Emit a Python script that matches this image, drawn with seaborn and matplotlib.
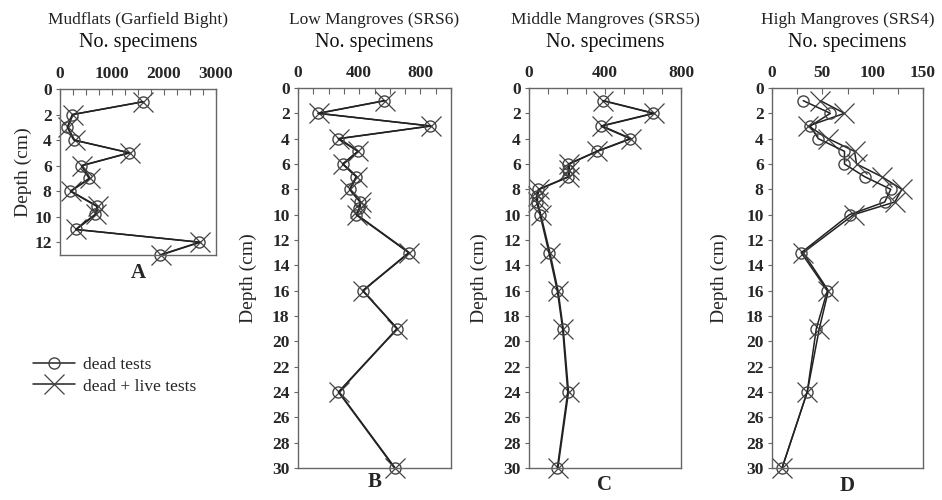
import matplotlib
matplotlib.use("Agg")
import matplotlib.pyplot as plt
from matplotlib.ticker import MultipleLocator
from matplotlib.lines import Line2D
import seaborn as sns
import pandas as pd

# ---------------- data ----------------
titles = ["Mudflats (Garfield Bight)", "Low Mangroves (SRS6)",
          "Middle Mangroves (SRS5)", "High Mangroves (SRS4)"]
panel_letters = ["A", "B", "C", "D"]

depth_A = [1, 2, 3, 4, 5, 6, 7, 8, 9.2, 9.8, 11, 12, 13]
dead_A = [1590, 235, 140, 265, 1330, 410, 560, 200, 710, 680, 300, 2680, 1920]
live_A = [1600, 250, 150, 280, 1340, 430, 580, 210, 730, 700, 310, 2700, 1940]

depth_B = [1, 2, 3, 4, 5, 6, 7, 8, 9, 9.5, 10, 13, 16, 19, 24, 30]
dead_B = [564, 130, 866, 262, 391, 291, 380, 337, 405, 400, 380, 723, 422, 647, 264, 631]
live_B = [570, 135, 870, 270, 395, 295, 385, 340, 410, 405, 385, 728, 425, 650, 268, 635]

depth_C = [1, 2, 3, 4, 5, 6, 6.5, 7, 8, 8.5, 9, 10, 13, 16, 19, 24, 30]
dead_C = [388, 654, 379, 532, 356, 207, 207, 207, 49, 40, 40, 58, 105, 149, 177, 204, 149]
live_C = [392, 660, 385, 538, 360, 212, 212, 212, 55, 45, 45, 62, 110, 153, 180, 208, 152]

depth_D = [1, 2, 3, 4, 5, 6, 7, 8, 9, 10, 13, 16, 19, 24, 30]
dead_D = [31, 58, 38, 46, 72, 72, 92, 118, 112, 77, 29, 55, 44, 35, 10]
live_D = [48, 72, 36, 56, 82, 84, 109, 129, 122, 81, 31, 56, 47, 35, 10]

x_limits = [3000, 1000, 800, 150]
x_major = [1000, 400, 400, 50]
x_minor = [250, 100, 100, 25]
y_limits = [13, 30, 30, 30]

series_labels = ["dead tests", "dead + live tests"]

# ---------------- style ----------------
sns.set_style("white")
plt.rcParams["font.family"] = ["Liberation Serif", "DejaVu Serif"]

W, H = 942, 500
fig = plt.figure(figsize=(W / 100, H / 100), dpi=100)

# axes boxes in pixels: left, right, top, bottom
boxes = [(60, 216, 89, 255), (298, 451, 88, 468), (529, 681, 88, 468), (772, 923, 88, 468)]
ylabel_offsets = [28, 41, 41, 44]
letter_y = [273, 482, 485, 486]

datasets = [(depth_A, dead_A, live_A), (depth_B, dead_B, live_B),
            (depth_C, dead_C, live_C), (depth_D, dead_D, live_D)]

spine_col = "#666666"
line_col = "#222222"
mark_col = "#444444"

for i, (box, (dep, dead, live)) in enumerate(zip(boxes, datasets)):
    l, r, t, b = box
    ax = fig.add_axes([l / W, (H - b) / H, (r - l) / W, (b - t) / H])
    df = pd.DataFrame({"depth": dep, "dead": dead, "live": live})
    sns.lineplot(data=df, x="live", y="depth", sort=False, estimator=None, ax=ax,
                 color=line_col, linewidth=1.1, marker="x", markersize=15,
                 markeredgecolor=mark_col, markeredgewidth=0.9, clip_on=False)
    sns.lineplot(data=df, x="dead", y="depth", sort=False, estimator=None, ax=ax,
                 color=line_col, linewidth=1.1, marker="o", markersize=8,
                 markerfacecolor="none", markeredgecolor=mark_col,
                 markeredgewidth=1.0, clip_on=False)
    ax.set_xlim(0, x_limits[i])
    ax.set_ylim(y_limits[i], 0)
    ax.xaxis.tick_top()
    ax.xaxis.set_major_locator(MultipleLocator(x_major[i]))
    ax.xaxis.set_minor_locator(MultipleLocator(x_minor[i]))
    ax.yaxis.set_major_locator(MultipleLocator(2))
    ax.tick_params(axis="x", which="both", direction="in", length=4, width=0.8,
                   color=spine_col, top=True, bottom=False, labeltop=True,
                   labelbottom=False, pad=5, labelsize=12.5)
    ax.tick_params(axis="y", which="major", direction="out", length=3, width=0.8,
                   color=spine_col, left=True, pad=3, labelsize=12.5)
    for lab in ax.get_xticklabels() + ax.get_yticklabels():
        lab.set_fontweight("bold")
    for sp in ax.spines.values():
        sp.set_visible(True)
        sp.set_color(spine_col)
        sp.set_linewidth(1.0)
    ax.set_xlabel("")
    ax.set_ylabel("Depth (cm)", fontsize=14)
    ax.yaxis.set_label_coords(-ylabel_offsets[i] / (r - l), 0.5)
    cx = (l + r) / 2 / W
    fig.text(cx, 1 - 20 / H, titles[i], ha="center", va="center", fontsize=12.5,
             color="#222222")
    fig.text(cx, 1 - 42 / H, "No. specimens", ha="center", va="center", fontsize=14.5,
             color="#111111")
    fig.text(cx, 1 - letter_y[i] / H, panel_letters[i], ha="center", va="center",
             fontsize=15, fontweight="bold")

handles = [
    Line2D([], [], color=line_col, linewidth=1.1, marker="o", markersize=8,
           markerfacecolor="none", markeredgecolor=mark_col),
    Line2D([], [], color=line_col, linewidth=1.1, marker="x", markersize=15,
           markeredgecolor=mark_col, markeredgewidth=0.9),
]
fig.legend(handles, series_labels, loc="upper left", bbox_to_anchor=(33 / W, 1 - 357 / H),
           frameon=False, fontsize=12.5, handlelength=2.4, handletextpad=0.5,
           labelspacing=0.3, borderpad=0, borderaxespad=0, numpoints=1)

fig.savefig("out.png", dpi=100)
